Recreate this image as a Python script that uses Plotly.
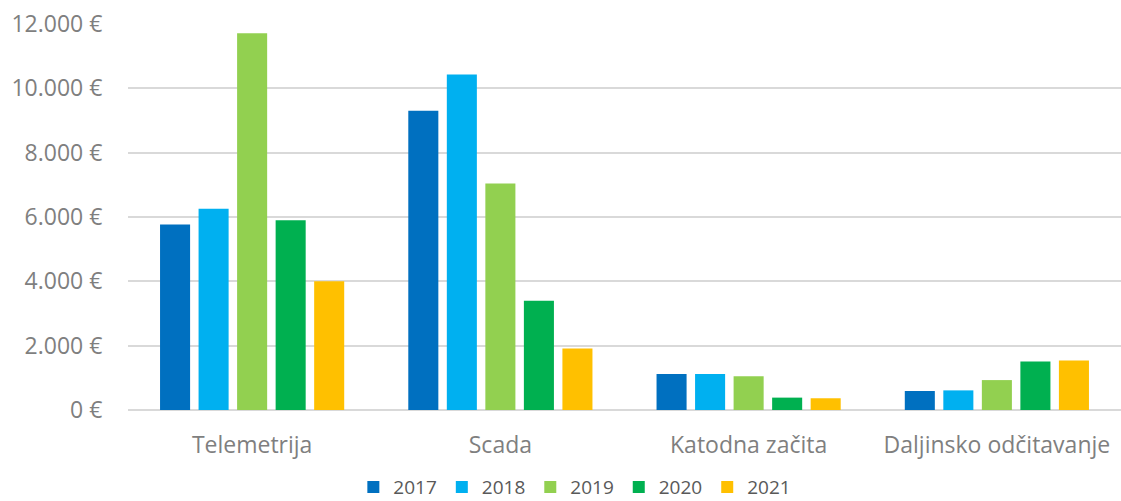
import plotly.graph_objects as go

categories = ["Telemetrija", "Scada", "Katodna začita", "Daljinsko odčitavanje"]
years = ["2017", "2018", "2019", "2020", "2021"]
v2017 = [5770, 9300, 1120, 590]
v2018 = [6260, 10430, 1120, 610]
v2019 = [11710, 7040, 1050, 930]
v2020 = [5900, 3400, 385, 1510]
v2021 = [4000, 1910, 365, 1535]
series = [v2017, v2018, v2019, v2020, v2021]
colors = ["#0070C0", "#00B0F0", "#92D050", "#00B050", "#FFC000"]
y_ticks = [0, 2000, 4000, 6000, 8000, 10000, 12000]
y_tick_labels = ["0 €", "2.000 €", "4.000 €", "6.000 €", "8.000 €", "10.000 €", "12.000 €"]

fig = go.Figure()
for name, vals, col in zip(years, series, colors):
    fig.add_trace(go.Bar(x=categories, y=vals, name=name, marker_color=col,
                         marker_line_width=0))

font_family = "Open Sans, Noto Sans, sans-serif"
fig.update_layout(
    width=1121, height=501,
    margin=dict(l=128, r=0, t=24, b=91, autoexpand=False),
    plot_bgcolor="white", paper_bgcolor="white",
    barmode="group", bargap=0.224, bargroupgap=0.22,
    font=dict(family=font_family, size=23, color="#7f7f7f"),
    showlegend=True,
    legend=dict(orientation="h", x=0.45, xanchor="center", xref="paper",
                y=-0.2, yanchor="middle", font=dict(size=19, color="#595959"),
                itemwidth=30, tracegroupgap=0),
    yaxis=dict(range=[0, 12000], tickvals=y_ticks, ticktext=y_tick_labels,
               showgrid=True, gridcolor="#d9d9d9", gridwidth=1.5,
               zeroline=True, zerolinecolor="#d9d9d9", zerolinewidth=1.5,
               ticks="outside", ticklen=20, tickcolor="rgba(0,0,0,0)",
               showline=False, tickfont=dict(size=23)),
    xaxis=dict(showline=False, ticks="outside", ticklen=14,
               tickcolor="rgba(0,0,0,0)", tickfont=dict(size=23)),
)

fig.write_html("out.html", config={"displayModeBar": False},
               post_script="document.body.style.margin='0';")
